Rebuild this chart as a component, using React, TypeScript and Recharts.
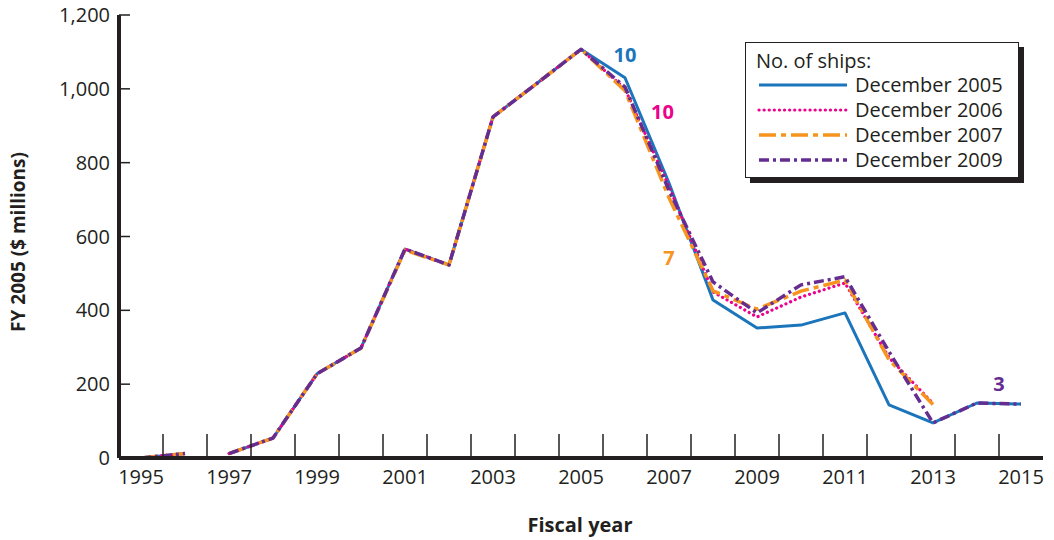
import React from 'react'
import { LineChart, Line, XAxis, YAxis, ReferenceDot } from 'recharts'

// fiscal years on the axis
const years = [1995, 1996, 1997, 1998, 1999, 2000, 2001, 2002, 2003, 2004, 2005,
  2006, 2007, 2008, 2009, 2010, 2011, 2012, 2013, 2014, 2015]

// FY 2005 $ millions, one value per year (null = no value)
const dec2005 = [0, 12, 12, 54, 228, 298, 566, 523, 924, 1015, 1107,
  1030, 745, 428, 352, 360, 393, 144, 95, 149, 146]
const dec2006 = [0, 12, 12, 54, 228, 298, 566, 523, 924, 1015, 1107,
  1000, 735, 450, 382, 436, 474, 272, 148, null, null]
const dec2007 = [0, 12, 12, 54, 228, 298, 563, 523, 924, 1015, 1107,
  995, 705, 453, 403, 452, 482, 266, 145, null, null]
const dec2009 = [0, 12, 12, 54, 228, 298, 566, 523, 924, 1015, 1107,
  1005, 725, 477, 393, 469, 491, 288, 95, 149, 146]

// the line is broken between 1996 and 1997
const breakAfter = 1996

const yTicks = [0, 200, 400, 600, 800, 1000, 1200]
const labelYears = [1995, 1997, 1999, 2001, 2003, 2005, 2007, 2009, 2011, 2013, 2015]
const markYears = years.slice(0, -1).map(y => y + 0.5)

const seriesInfo = [
  { key: 'dec2005', name: 'December 2005', color: '#1b75bb', dash: undefined as string | undefined, width: 3, cap: 'butt' },
  { key: 'dec2006', name: 'December 2006', color: '#ec008c', dash: '0.1 5', width: 3.2, cap: 'round' },
  { key: 'dec2007', name: 'December 2007', color: '#f7941d', dash: '17 5 5 5', width: 3.5, cap: 'butt' },
  { key: 'dec2009', name: 'December 2009', color: '#662d91', dash: '10 4 3 4', width: 3.5, cap: 'butt' },
]

// ship-count annotations
const notes = [
  { x: 2006, y: 1092, text: '10', color: '#1b75bb' },
  { x: 2006.85, y: 938, text: '10', color: '#ec008c' },
  { x: 2007, y: 542, text: '7', color: '#f7941d' },
  { x: 2014.5, y: 200, text: '3', color: '#662d91' },
]

const rows: any[] = []
years.forEach((yr, i) => {
  rows.push({ year: yr, dec2005: dec2005[i], dec2006: dec2006[i], dec2007: dec2007[i], dec2009: dec2009[i] })
  if (yr === breakAfter) rows.push({ year: yr + 0.5, dec2005: null, dec2006: null, dec2007: null, dec2009: null })
})

const FONT = '"Open Sans", "DejaVu Sans", sans-serif'
const INK = '#231f20'

function XTick(props: any) {
  const { x, y, payload } = props
  const v = payload.value
  if (v % 1 !== 0) {
    return <line x1={x} x2={x} y1={y - 2} y2={y - 24} stroke={INK} strokeWidth={1.5} />
  }
  if (labelYears.includes(v)) {
    return <text x={x} y={y + 26} textAnchor="middle" fontSize={20} fontFamily={FONT} fill={INK}>{v}</text>
  }
  return <g />
}

function YTick(props: any) {
  const { x, y, payload } = props
  const v = payload.value
  return (
    <g>
      {v > 0 && <line x1={x} x2={x + 11} y1={y} y2={y} stroke={INK} strokeWidth={1.5} />}
      <text x={x - 9} y={y + 7} textAnchor="end" fontSize={20} fontFamily={FONT} fill={INK}>
        {v.toLocaleString('en-US')}
      </text>
    </g>
  )
}

function LegendBox() {
  return (
    <div style={{
      position: 'absolute', left: 745, top: 42, width: 274, height: 136,
      background: '#fff', border: `1.5px solid ${INK}`, boxShadow: `5px 5px 0 ${INK}`,
      boxSizing: 'border-box', fontFamily: FONT, fontSize: 20, color: INK, lineHeight: '24px',
    }}>
      <div style={{ position: 'absolute', left: 10, top: 6 }}>No. of ships:</div>
      {seriesInfo.map((s, i) => (
        <div key={s.key} style={{ position: 'absolute', left: 11, top: 30 + i * 25, display: 'flex', alignItems: 'center' }}>
          <svg width={92} height={20}>
            <line x1={2} x2={90} y1={10} y2={10} stroke={s.color} strokeWidth={s.width}
              strokeDasharray={s.dash} strokeLinecap={s.cap as any} />
          </svg>
          <span style={{ marginLeft: 6 }}>{s.name}</span>
        </div>
      ))}
    </div>
  )
}

export default function App() {
  return (
    <div style={{ position: 'absolute', left: 0, top: 0, width: 1054, height: 540, background: '#fff' }}>
      <LineChart width={1054} height={540} data={rows} margin={{ top: 15, right: 11, bottom: 52, left: 59 }}>
        <XAxis dataKey="year" type="number" domain={[1994.5, 2015.5]}
          ticks={[...years, ...markYears].sort((a, b) => a - b)} interval={0}
          tickSize={0} tickMargin={0} tickLine={false} height={30}
          axisLine={{ stroke: INK, strokeWidth: 4 }} tick={<XTick />} />
        <YAxis type="number" domain={[0, 1200]} ticks={yTicks} interval={0}
          tickSize={0} tickMargin={0} tickLine={false} width={60}
          axisLine={{ stroke: INK, strokeWidth: 4 }} tick={<YTick />} />
        {seriesInfo.map(s => (
          <Line key={s.key} dataKey={s.key} name={s.name} type="linear" stroke={s.color}
            strokeWidth={s.width} strokeDasharray={s.dash} strokeLinecap={s.cap as any}
            strokeLinejoin="round" dot={false} activeDot={false} isAnimationActive={false} />
        ))}
        {notes.map((n, i) => (
          <ReferenceDot key={i} x={n.x} y={n.y} r={0} stroke="none" fill="none" ifOverflow="visible"
            label={{ value: n.text, position: 'center', fill: n.color, fontSize: 20, fontWeight: 700, fontFamily: FONT }} />
        ))}
      </LineChart>
      <div style={{
        position: 'absolute', left: 18, top: 242, transform: 'translate(-50%, -50%) rotate(-90deg)',
        whiteSpace: 'nowrap', fontFamily: FONT, fontWeight: 700, fontSize: 19, color: INK,
      }}>FY 2005 ($ millions)</div>
      <div style={{
        position: 'absolute', left: 580, top: 524, transform: 'translate(-50%, -50%)',
        whiteSpace: 'nowrap', fontFamily: FONT, fontWeight: 700, fontSize: 20, color: INK,
      }}>Fiscal year</div>
      <LegendBox />
    </div>
  )
}
